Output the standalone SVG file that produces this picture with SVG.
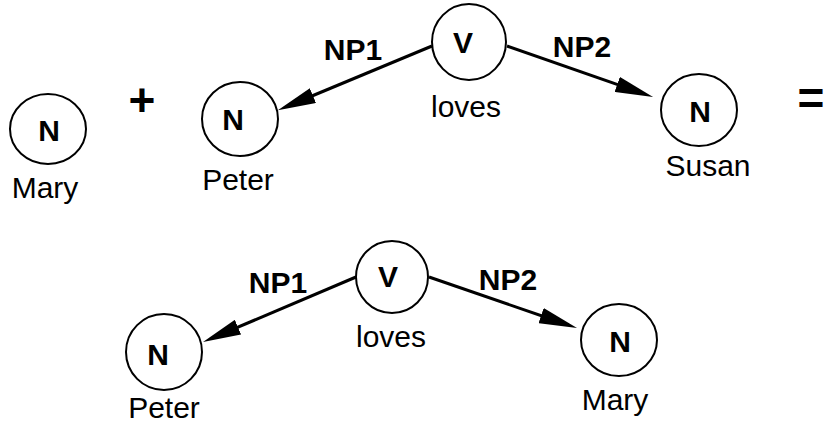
<svg xmlns="http://www.w3.org/2000/svg" width="826" height="425" viewBox="0 0 826 425">
  <style>
    .node { fill: #ffffff; stroke: #000000; stroke-width: 2; }
    .lbl { font-family: "Liberation Sans", Arial, sans-serif; font-size: 30px; font-weight: bold; text-anchor: middle; fill: #000; }
    .word { font-family: "Liberation Sans", Arial, sans-serif; font-size: 30px; text-anchor: middle; fill: #000; }
    .op { font-family: "Liberation Sans", Arial, sans-serif; font-size: 46px; font-weight: bold; text-anchor: middle; fill: #000; }
    .edge { stroke: #000000; stroke-width: 3; fill: none; marker-end: url(#arrow); }
  </style>
  <defs>
    <marker id="arrow" markerUnits="userSpaceOnUse" viewBox="0 0 38 16" markerWidth="38" markerHeight="16" refX="18" refY="8" orient="auto">
      <path d="M0,0 L38,8 L0,16 z" fill="#000"/>
    </marker>
  </defs>
  <rect width="826" height="425" fill="#ffffff"/>

  <g id="connectors">
    <line class="edge" x1="432" y1="46" x2="296.3" y2="102.5"/>
    <line class="edge" x1="507" y1="46" x2="634.2" y2="90.4"/>
    <line class="edge" x1="356" y1="277" x2="221.4" y2="334.2"/>
    <line class="edge" x1="429" y1="277" x2="558.1" y2="321.5"/>
    <text class="lbl" x="353" y="60">NP1</text>
    <text class="lbl" x="582" y="57">NP2</text>
    <text class="lbl" x="278" y="293">NP1</text>
    <text class="lbl" x="508" y="290">NP2</text>
  </g>

  <g id="mary1">
    <ellipse class="node" cx="48" cy="129" rx="38" ry="35"/>
    <text class="lbl" x="49" y="141">N</text>
    <text class="word" x="45" y="198">Mary</text>
  </g>

  <g id="plus">
    <text class="op" x="142" y="116">+</text>
  </g>

  <g id="peter1">
    <ellipse class="node" cx="240" cy="119" rx="38" ry="37"/>
    <text class="lbl" x="233" y="130">N</text>
    <text class="word" x="238" y="190">Peter</text>
  </g>

  <g id="loves1">
    <ellipse class="node" cx="469" cy="42" rx="37" ry="38"/>
    <text class="lbl" x="463" y="53">V</text>
    <text class="word" x="466" y="117">loves</text>
  </g>

  <g id="susan">
    <ellipse class="node" cx="699" cy="110" rx="38" ry="36"/>
    <text class="lbl" x="700" y="122">N</text>
    <text class="word" x="708" y="176">Susan</text>
  </g>

  <g id="equals">
    <text class="op" x="811" y="114">=</text>
  </g>

  <g id="loves2">
    <ellipse class="node" cx="392" cy="277" rx="36" ry="36"/>
    <text class="lbl" x="388" y="287">V</text>
    <text class="word" x="391" y="347">loves</text>
  </g>

  <g id="peter2">
    <ellipse class="node" cx="164" cy="352" rx="38" ry="38"/>
    <text class="lbl" x="158" y="365">N</text>
    <text class="word" x="164" y="418">Peter</text>
  </g>

  <g id="mary2">
    <ellipse class="node" cx="619" cy="340" rx="38" ry="36"/>
    <text class="lbl" x="620" y="352">N</text>
    <text class="word" x="615" y="410">Mary</text>
  </g>
</svg>
